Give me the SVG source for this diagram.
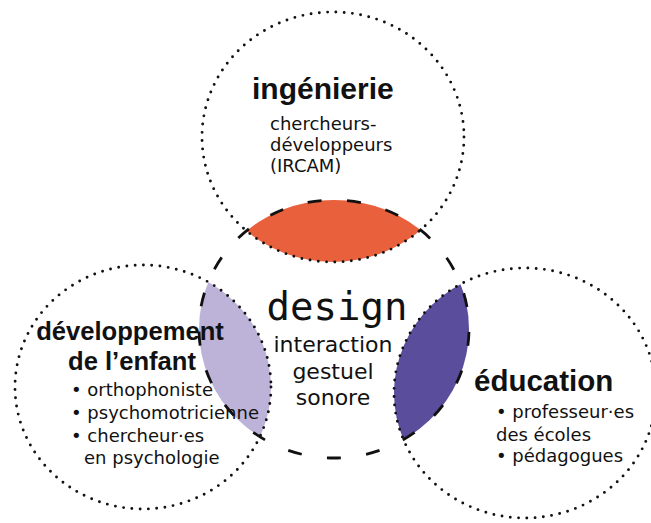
<svg xmlns="http://www.w3.org/2000/svg" width="651" height="523" viewBox="0 0 651 523">
<style>
.dotted{fill:none;stroke:#111;stroke-width:2.9;stroke-dasharray:0 8.3;stroke-linecap:round}
.dashed{fill:none;stroke:#111;stroke-width:2.8;stroke-dasharray:14 25.5;stroke-dashoffset:36.6}
.h{font-family:"Liberation Sans",Arial,sans-serif;font-weight:bold;fill:#111}
.b{font-family:"DejaVu Sans","Liberation Sans",sans-serif;fill:#111}
.m{font-family:"DejaVu Sans Mono","Liberation Mono",monospace;fill:#111}
</style>
<defs>
<clipPath id="clip-design"><ellipse cx="334" cy="329" rx="135" ry="129"/></clipPath>
</defs>
<rect width="651" height="523" fill="#fff"/>
<g id="overlaps" clip-path="url(#clip-design)">
<ellipse cx="333" cy="137" rx="131" ry="125" fill="#E8613C"/>
<ellipse cx="143" cy="387" rx="128" ry="122" fill="#BDB3D9"/>
<ellipse cx="525" cy="393" rx="131" ry="125" fill="#5A4E9C"/>
</g>
<g id="node-design">
<ellipse class="dashed" cx="334" cy="329" rx="135" ry="129"/>
<text class="m" x="337" y="320" font-size="39" text-anchor="middle">design</text>
<text class="b" x="333" y="352" font-size="22" text-anchor="middle">interaction</text>
<text class="b" x="333" y="379" font-size="22" text-anchor="middle">gestuel</text>
<text class="b" x="333" y="405" font-size="22" text-anchor="middle">sonore</text>
</g>
<g id="node-ingenierie">
<ellipse class="dotted" cx="333" cy="137" rx="131" ry="125"/>
<text class="h" x="252" y="99" font-size="30">ingénierie</text>
<text class="b" x="270" y="130" font-size="18">chercheurs-</text>
<text class="b" x="270" y="151" font-size="18">développeurs</text>
<text class="b" x="270" y="172" font-size="18">(IRCAM)</text>
</g>
<g id="node-developpement">
<ellipse class="dotted" cx="143" cy="387" rx="128" ry="122"/>
<text class="h" x="130" y="340" font-size="25.6" text-anchor="middle">développement</text>
<text class="h" x="132" y="370" font-size="25.6" text-anchor="middle">de l’enfant</text>
<text class="b" x="71" y="396" font-size="18">• orthophoniste</text>
<text class="b" x="71" y="419" font-size="18">• psychomotricienne</text>
<text class="b" x="71" y="442" font-size="18">• chercheur·es</text>
<text class="b" x="84" y="464" font-size="18">en psychologie</text>
</g>
<g id="node-education">
<ellipse class="dotted" cx="525" cy="393" rx="131" ry="125"/>
<text class="h" x="474" y="391" font-size="29.5">éducation</text>
<text class="b" x="496" y="418" font-size="18">• professeur·es</text>
<text class="b" x="496" y="441" font-size="18">des écoles</text>
<text class="b" x="496" y="462" font-size="18">• pédagogues</text>
</g>
<g id="connectors"/>
</svg>
